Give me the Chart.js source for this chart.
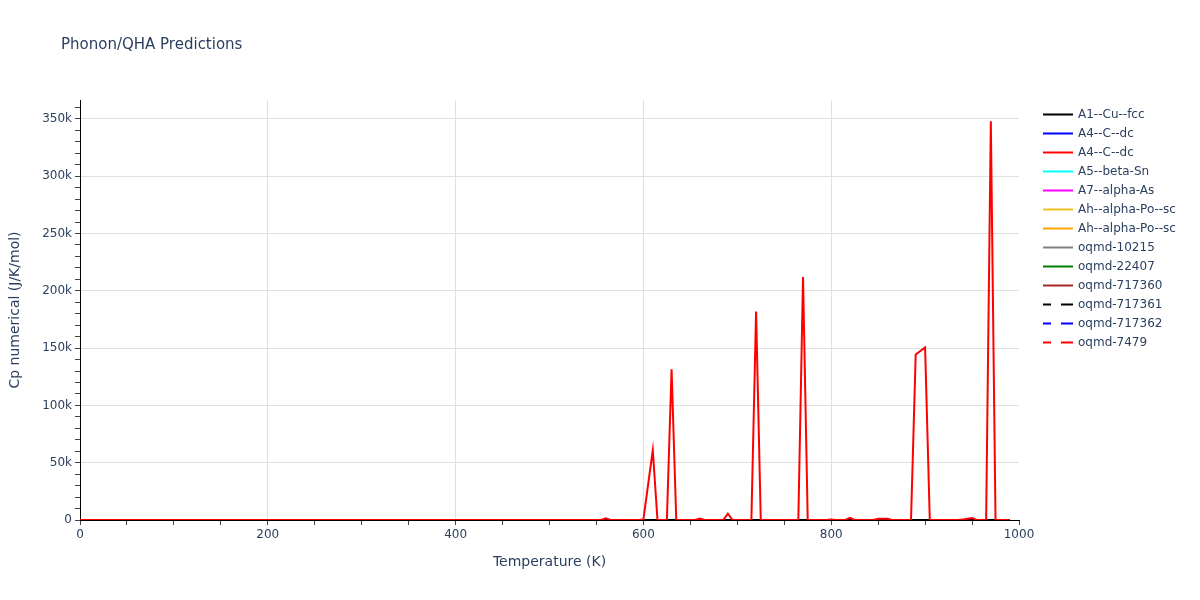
<!DOCTYPE html>
<html>
<head>
<meta charset="utf-8">
<title>Phonon/QHA Predictions</title>
<script src="https://cdn.jsdelivr.net/npm/chart.js@4.4.1/dist/chart.umd.min.js"></script>
<style>
  body { margin: 0; background: #fff; }
  #wrap { width: 1200px; height: 600px; }
</style>
</head>
<body>
<div id="wrap"><canvas id="chart" width="1200" height="600"></canvas></div>
<script>
// temperatures (K) and Cp values (J/K/mol)
const tempA4 = [0, 555, 560, 565, 595, 600, 610, 615, 625, 630, 635, 655, 660, 665, 685, 690, 695,
  715, 720, 725, 765, 770, 775, 795, 800, 805, 815, 820, 825, 845, 850, 860, 865,
  885, 890, 900, 905, 935, 940, 950, 955, 965, 970, 975, 990];
const cpA4 = [0, 0, 1500, 0, 0, 500, 61000, 0, 0, 131500, 0, 0, 1200, 0, 0, 5500, 0,
  0, 182000, 0, 0, 212000, 0, 0, 500, 0, 0, 1800, 0, 0, 1000, 1000, 0,
  0, 144500, 150500, 0, 0, 500, 1800, 0, 0, 348000, 0, 0];

// the other phases stay at the bottom of the scale (hidden under the red line)
const tempFlat = [0, 990];
const cpFlat = [0, 0];

const seriesNames = ['A1--Cu--fcc', 'A4--C--dc', 'A4--C--dc', 'A5--beta-Sn', 'A7--alpha-As',
  'Ah--alpha-Po--sc', 'Ah--alpha-Po--sc', 'oqmd-10215', 'oqmd-22407', 'oqmd-717360',
  'oqmd-717361', 'oqmd-717362', 'oqmd-7479'];
const seriesColors = ['#000000', '#0000ff', '#ff0000', '#00ffff', '#ff00ff',
  '#f0c020', '#ffa500', '#808080', '#008000', '#a52a2a',
  '#000000', '#0000ff', '#ff0000'];
const seriesDashed = [false, false, false, false, false, false, false, false, false, false, true, true, true];

const yTickStep = 10000;
const yTicksMajor = 50000;
const xTickStep = 50;
const xTicksMajor = 200;

const font = '"DejaVu Sans", verdana, arial, sans-serif';
const textColor = '#2a3f5f';

function toPoints(xs, ys) {
  return xs.map((x, i) => ({ x: x, y: ys[i] }));
}

function stepTicks(scale, step) {
  const ticks = [];
  for (let v = scale.min; v <= scale.max; v += step) ticks.push({ value: v });
  scale.ticks = ticks;
}

const datasets = seriesNames.map((name, i) => {
  const isPeaks = i === 2;
  return {
    label: name,
    data: isPeaks ? toPoints(tempA4, cpA4) : toPoints(tempFlat, cpFlat),
    borderColor: seriesColors[i],
    backgroundColor: seriesColors[i],
    borderWidth: 2,
    borderDash: seriesDashed[i] ? [9, 9] : [],
    pointRadius: 0,
    tension: 0,
    fill: false,
    order: isPeaks ? 0 : 1
  };
});

// title and plotly-like legend drawn on the canvas
const extras = {
  id: 'extras',
  afterDraw(chart) {
    const ctx = chart.ctx;
    ctx.save();
    ctx.fillStyle = textColor;
    ctx.font = '15px ' + font;
    ctx.textBaseline = 'middle';
    ctx.textAlign = 'left';
    ctx.fillText('Phonon/QHA Predictions', 61, 45);

    ctx.font = '12px ' + font;
    chart.data.datasets.forEach((ds, i) => {
      const y = 114.5 + i * 19;
      ctx.strokeStyle = ds.borderColor;
      ctx.lineWidth = 2;
      ctx.setLineDash(seriesDashed[i] ? [8, 10, 12, 0] : []);
      ctx.beginPath();
      ctx.moveTo(1043, y);
      ctx.lineTo(1073, y);
      ctx.stroke();
      ctx.setLineDash([]);
      ctx.fillStyle = textColor;
      ctx.fillText(ds.label, 1078, y);
    });
    ctx.restore();
  }
};

new Chart(document.getElementById('chart'), {
  type: 'line',
  data: { datasets: datasets },
  plugins: [extras],
  options: {
    responsive: false,
    animation: false,
    devicePixelRatio: 1,
    layout: { padding: { left: 0, top: 100, right: 181, bottom: 25 } },
    plugins: {
      legend: { display: false },
      title: { display: false },
      tooltip: { enabled: false }
    },
    scales: {
      x: {
        type: 'linear',
        min: 0,
        max: 1000,
        afterFit(scale) { scale.height = 55; },
        afterBuildTicks(scale) { stepTicks(scale, xTickStep); },
        border: { color: '#000', width: 1 },
        grid: {
          color: c => (c.tick.value % xTicksMajor === 0 && c.tick.value > 0 && c.tick.value < 1000) ? '#e0e0e0' : 'rgba(0,0,0,0)',
          tickColor: '#444',
          tickLength: 5
        },
        ticks: {
          autoSkip: false,
          maxRotation: 0,
          padding: 3,
          color: textColor,
          font: { family: font, size: 12 },
          callback: v => (v % xTicksMajor === 0 ? String(v) : '')
        },
        title: {
          display: true,
          text: 'Temperature (K)',
          color: textColor,
          font: { family: font, size: 14 },
          padding: { top: 0, bottom: 4 }
        }
      },
      y: {
        min: 0,
        max: 366500,
        afterFit(scale) { scale.width = 80; },
        afterBuildTicks(scale) { stepTicks(scale, yTickStep); },
        border: { color: '#000', width: 1 },
        grid: {
          color: c => (c.tick.value % yTicksMajor === 0 && c.tick.value > 0) ? '#e0e0e0' : 'rgba(0,0,0,0)',
          tickColor: '#444',
          tickLength: 5
        },
        ticks: {
          autoSkip: false,
          padding: 3,
          color: textColor,
          font: { family: font, size: 12 },
          callback: v => {
            if (v % yTicksMajor !== 0) return '';
            return v === 0 ? '0' : (v / 1000) + 'k';
          }
        },
        title: {
          display: true,
          text: 'Cp numerical (J/K/mol)',
          color: textColor,
          font: { family: font, size: 14 },
          padding: { top: 7, bottom: 0 }
        }
      }
    }
  }
});
</script>
</body>
</html>
